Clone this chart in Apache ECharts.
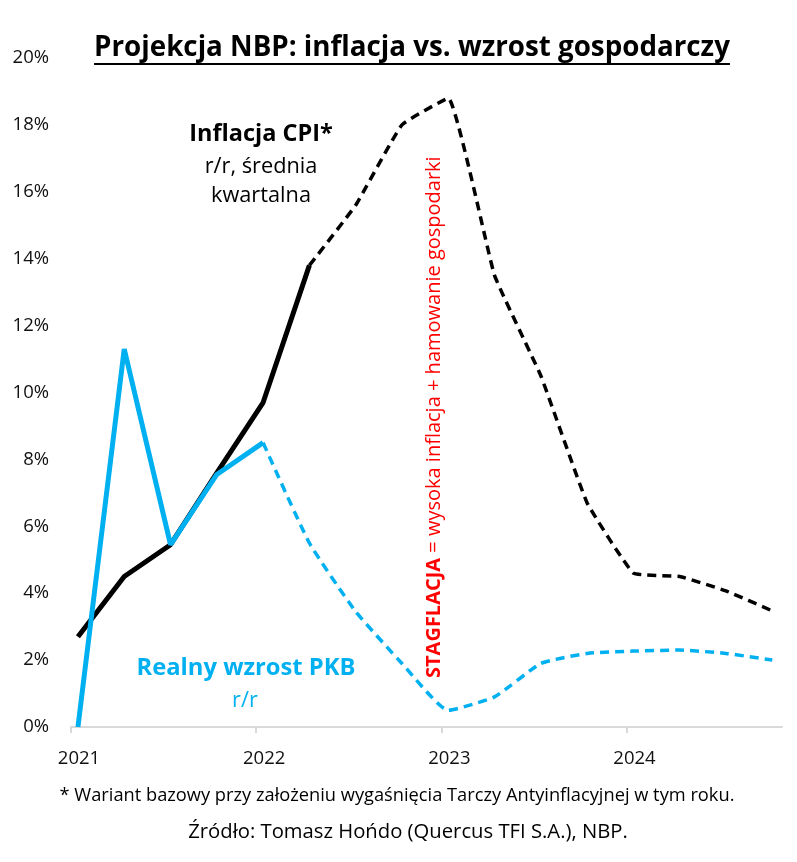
<!DOCTYPE html>
<html><head><meta charset="utf-8">
<script src="https://cdn.jsdelivr.net/npm/echarts@6/dist/echarts.min.js"></script>
<style>html,body{margin:0;padding:0;background:#fff}#c{width:797px;height:862px}</style>
</head><body><div id="c"></div>
<script>
// ---- data ----
const quarters = ['2021Q1','2021Q2','2021Q3','2021Q4','2022Q1','2022Q2','2022Q3','2022Q4',
                  '2023Q1','2023Q2','2023Q3','2023Q4','2024Q1','2024Q2','2024Q3','2024Q4'];
const yearLabels = ['2021','2022','2023','2024'];
const cpiValues = [2.7, 4.5, 5.45, 7.6, 9.7, 13.8, 15.6, 18.0, 18.8, 13.5, 10.5, 6.7, 4.6, 4.5, 4.07, 3.47];
const cpiLastActual = 5;   // index of last actual CPI quarter
const gdpValues = [0, 11.3, 5.45, 7.55, 8.5, 5.5, 3.45, 1.9, 0.5, 0.9, 1.9, 2.2, 2.27, 2.3, 2.2, 2.0];
const gdpLastActual = 4;   // index of last actual GDP quarter

// ---- layout ----
const FONT = 'Open Sans';
const BLUE = '#00b0f0';
const OFF = 0.15; // data points sit slightly after quarter boundary
function pts(vals, from, to) {
  const out = [];
  for (let i = from; i <= to; i++) out.push([i + OFF, vals[i]]);
  return out;
}
const ctx = document.createElement('canvas').getContext('2d');
function width(text, weight, size) {
  ctx.font = weight + ' ' + size + 'px "' + FONT + '"';
  return ctx.measureText(text).width;
}
function fit(text, weight, target, maxSize) {
  let s = maxSize;
  while (s > 8 && width(text, weight, s) > target) s -= 0.25;
  return s;
}

const title = 'Projekcja NBP: inflacja vs. wzrost gospodarczy';
const note1 = '* Wariant bazowy przy założeniu wygaśnięcia Tarczy Antyinflacyjnej w tym roku.';
const note2 = 'Źródło: Tomasz Hońdo (Quercus TFI S.A.), NBP.';

const chart = echarts.init(document.getElementById('c'), null, {renderer: 'canvas'});

function txt(x, y, text, weight, size, fill) {
  return {type: 'text', x: x, y: y, style: {text: text, font: weight + ' ' + size + 'px "' + FONT + '"',
          fill: fill, align: 'center', verticalAlign: 'middle'}};
}

function build() {
  const tSize = fit(title, 'bold', 637, 32);
  const tW = width(title, 'bold', tSize);
  const n1 = fit(note1, 'normal', 680, 24);
  const n2 = fit(note2, 'normal', 440, 24);
  const cpiT = fit('Inflacja CPI*', 'bold', 145, 28);
  const cpiS = fit('r/r, średnia', 'normal', 113, 28);
  const gdpT = fit('Realny wzrost PKB', 'bold', 221, 28);
  const stag1 = 'STAGFLACJA';
  const stag2 = ' = wysoka inflacja + hamowanie gospodarki';
  let sSize = 24;
  while (sSize > 8 && width(stag1,'bold',sSize) + width(stag2,'normal',sSize) > 523) sSize -= 0.25;

  const option = {
    backgroundColor: '#fff',
    animation: false,
    textStyle: {fontFamily: FONT},
    grid: {left: 71, right: 15, top: 58, bottom: 135, containLabel: false},
    xAxis: {
      type: 'value', min: 0, max: 15.36, interval: 4,
      axisLine: {show: true, lineStyle: {color: '#d9d9d9', width: 2}},
      axisTick: {show: true, length: 6, lineStyle: {color: '#d9d9d9', width: 2}, customValues: [0,4,8,12]},
      splitLine: {show: false},
      axisLabel: {
        customValues: [0,4,8,12],
        formatter: v => yearLabels[Math.round(v / 4)] || '',
        color: '#111', fontSize: 18.5, margin: 22, padding: [0,0,0,16], fontFamily: FONT
      }
    },
    yAxis: {
      type: 'value', min: 0, max: 20, interval: 2,
      axisLine: {show: false}, axisTick: {show: false}, splitLine: {show: false},
      axisLabel: {formatter: '{value}%', color: '#111', fontSize: 18.5, margin: 22, fontFamily: FONT}
    },
    series: [
      {type: 'line', name: 'PKB prognoza', data: pts(gdpValues, gdpLastActual, gdpValues.length - 1),
       symbol: 'none', smooth: 0.15, lineStyle: {color: BLUE, width: 3.5, type: [9, 6], cap: 'butt'}, z: 2},
      {type: 'line', name: 'CPI prognoza', data: pts(cpiValues, cpiLastActual, cpiValues.length - 1),
       symbol: 'none', smooth: 0.1, lineStyle: {color: '#000', width: 3.5, type: [9, 6], cap: 'butt'}, z: 2},
      {type: 'line', name: 'CPI', data: pts(cpiValues, 0, cpiLastActual),
       symbol: 'none', lineStyle: {color: '#000', width: 5}, z: 3},
      {type: 'line', name: 'PKB', data: pts(gdpValues, 0, gdpLastActual),
       symbol: 'none', lineStyle: {color: BLUE, width: 5}, z: 4}
    ],
    graphic: [
      txt(412, 48, title, 'bold', tSize, '#000'),
      {type: 'line', shape: {x1: 412 - tW / 2, y1: 64, x2: 412 + tW / 2, y2: 64}, style: {stroke: '#000', lineWidth: 2}},
      txt(261, 134, 'Inflacja CPI*', 'bold', cpiT, '#000'),
      txt(261, 167, 'r/r, średnia', 'normal', cpiS, '#000'),
      txt(261, 196, 'kwartalna', 'normal', cpiS, '#000'),
      txt(246, 668, 'Realny wzrost PKB', 'bold', gdpT, BLUE),
      txt(245, 701, 'r/r', 'normal', cpiS, BLUE),
      {type: 'text', x: 434, y: 678, rotation: Math.PI / 2,
       style: {text: '{b|' + stag1 + '}{n|' + stag2 + '}', align: 'left', verticalAlign: 'middle',
               rich: {b: {fontWeight: 'bold', fontSize: sSize, fontFamily: FONT, fill: '#ff0000'},
                      n: {fontWeight: 'normal', fontSize: sSize, fontFamily: FONT, fill: '#ff0000'}}}},
      txt(397, 796, note1, 'normal', n1, '#000'),
      txt(408, 832, note2, 'normal', n2, '#000')
    ]
  };
  chart.setOption(option);
}
if (document.fonts && document.fonts.load) {
  Promise.all([document.fonts.load('bold 20px "' + FONT + '"'), document.fonts.load('20px "' + FONT + '"')]).then(build, build);
} else build();
</script></body></html>
